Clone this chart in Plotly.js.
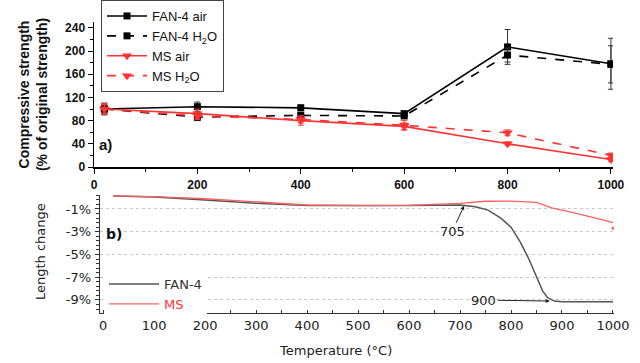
<!DOCTYPE html>
<html><head><meta charset="utf-8">
<script src="https://cdn.plot.ly/plotly-3.0.1.min.js"></script>
<style>html,body{margin:0;padding:0;background:#fff}#c{width:640px;height:363px}</style>
</head><body><div id="c"></div>
<script>
// ---- a) compressive strength ----
const tempA = [20, 200, 400, 600, 800, 1000];
const fanAir = [100, 104, 102, 92, 207, 178];
const fanAirErr = [10, 8, 5, 4, 30, 44];
const fanH2O = [100, 86, 89, 88, 193, 177];
const fanH2OErr = [8, 6, 4, 4, 12, 32];
const msAir = [100, 92, 80, 70, 40, 13];
const msAirErr = [10, 8, 8, 6, 3, 3];
const msH2O = [100, 88, 82, 72, 59, 20];
const msH2OErr = [8, 6, 6, 8, 5, 4];
const tickA = [0, 200, 400, 600, 800, 1000];

// ---- b) length change (dilatometry) ----
const tempFan = [20, 100, 200, 300, 400, 500, 600, 700, 730, 755, 780, 800, 818, 835, 850, 862, 872, 885, 900, 950, 1000];
const lenFan = [0.15, 0.05, -0.2, -0.5, -0.7, -0.72, -0.7, -0.65, -0.8, -1.1, -1.8, -2.6, -3.9, -5.4, -7.0, -8.2, -8.8, -9.1, -9.17, -9.17, -9.17];
const tempMs = [20, 100, 200, 300, 400, 500, 600, 650, 700, 750, 800, 850, 880, 920, 950, 980, 1000];
const lenMs = [0.15, 0.08, -0.1, -0.4, -0.65, -0.7, -0.68, -0.6, -0.5, -0.32, -0.3, -0.42, -0.9, -1.3, -1.6, -1.95, -2.2];
const msEndT = [1000];
const msEndL = [-2.7];
const tickBvals = [-1, -3, -5, -7, -9];
const tickBtext = ['-1%', '-3%', '-5%', '-7%', '-9%'];

const RED = '#ff3333';
const fA = {family: 'Liberation Sans, Arial, sans-serif', size: 12, color: '#111', weight: 'bold'};
const fB = {family: 'DejaVu Sans, Verdana, sans-serif', size: 13, color: '#222'};

function errT(arr, color) { return {type: 'data', array: arr, visible: true, color: color, thickness: 1, width: 3}; }

const traces = [
  {x: tempA, y: fanAir, name: 'FAN-4 air', legendgroup: 'fan', mode: 'lines+markers', xaxis: 'x', yaxis: 'y',
   line: {color: '#000', width: 1.6}, marker: {symbol: 'square', size: 7, color: '#000'}, error_y: errT(fanAirErr, '#333')},
  {x: tempA, y: fanH2O, name: 'FAN-4 H<sub>2</sub>O', legendgroup: 'fan', mode: 'lines+markers', xaxis: 'x', yaxis: 'y',
   line: {color: '#000', width: 1.6, dash: 'dash'}, marker: {symbol: 'square', size: 7, color: '#000'}, error_y: errT(fanH2OErr, '#333')},
  {x: tempA, y: msAir, name: 'MS air', legendgroup: 'ms', mode: 'lines+markers', xaxis: 'x', yaxis: 'y',
   line: {color: RED, width: 1.6}, marker: {symbol: 'triangle-down', size: 9, color: RED}, error_y: errT(msAirErr, RED)},
  {x: tempA, y: msH2O, name: 'MS H<sub>2</sub>O', legendgroup: 'ms', mode: 'lines+markers', xaxis: 'x', yaxis: 'y',
   line: {color: RED, width: 1.6, dash: 'dash'}, marker: {symbol: 'triangle-down', size: 9, color: RED}, error_y: errT(msH2OErr, RED)},
  {x: tempFan, y: lenFan, name: 'FAN-4', legend: 'legend2', mode: 'lines', xaxis: 'x2', yaxis: 'y2',
   line: {color: '#555', width: 1.5}},
  {x: tempMs, y: lenMs, name: '<span style="color:#ff3333">MS</span>', legend: 'legend2', mode: 'lines', xaxis: 'x2', yaxis: 'y2',
   line: {color: '#ff6060', width: 1.3}},
  {x: msEndT, y: msEndL, showlegend: false, mode: 'markers', xaxis: 'x2', yaxis: 'y2',
   marker: {color: '#ff6060', size: 3}}
];

const layout = {
  width: 640, height: 363, margin: {l: 0, r: 0, t: 0, b: 0},
  paper_bgcolor: '#fff', plot_bgcolor: 'rgba(0,0,0,0)', showlegend: true,
  xaxis: {domain: [94/640, 613/640], range: [0, 1004], anchor: 'y', showline: true, linecolor: '#000', linewidth: 1.5,
    showgrid: false, zeroline: false, tickvals: tickA, ticks: 'outside', ticklen: 5, tickcolor: '#000',
    minor: {dtick: 100, tick0: 0, ticks: 'outside', ticklen: 3, tickcolor: '#000'},
    tickfont: fA, ticklabelstandoff: 1},
  yaxis: {domain: [(363-167)/363, (363-22)/363], range: [0, 250], anchor: 'x', showline: true, linecolor: '#000', linewidth: 1.5,
    showgrid: false, zeroline: false, tickvals: [0, 40, 80, 120, 160, 200, 240], ticks: 'outside', ticklen: 5, tickcolor: '#000',
    minor: {dtick: 20, tick0: 0, ticks: 'outside', ticklen: 3, tickcolor: '#000'},
    tickfont: fA,
    title: {text: 'Compressive strength<br>(% of original strength)', font: {family: 'Liberation Sans, Arial, sans-serif', size: 14, weight: 'bold', color: '#111'}, standoff: 14}},
  xaxis2: {domain: [100/640, 614/640], range: [-6, 1002], anchor: 'y2', showline: true, linecolor: '#333', linewidth: 1.2,
    showgrid: false, zeroline: false, dtick: 100, tick0: 0, ticks: 'inside', ticklen: 3, tickcolor: '#333',
    minor: {dtick: 50, tick0: 0, ticks: 'inside', ticklen: 3, tickcolor: '#333'},
    tickfont: fB, ticklabelstandoff: 0},
  yaxis2: {domain: [(363-313)/363, (363-195)/363], range: [-10.15, 0.23], anchor: 'x2', showline: true, linecolor: '#333', linewidth: 1.2,
    showgrid: true, gridcolor: '#c8c8c8', griddash: 'dot', gridwidth: 1, zeroline: false,
    tickvals: tickBvals, ticktext: tickBtext, ticks: 'outside', ticklen: 4, tickcolor: '#333',
    minor: {dtick: 0.4, tick0: -1, ticks: 'outside', ticklen: 3, tickcolor: '#333', showgrid: false},
    tickfont: fB, ticklabelstandoff: 1},
  legend: {x: 101/640, xanchor: 'left', y: 1, yanchor: 'top', bgcolor: '#fff', bordercolor: '#444', borderwidth: 1,
    font: {family: 'Liberation Sans, Arial, sans-serif', size: 13, color: '#111'}, itemwidth: 40, tracegroupgap: 0,
    traceorder: 'grouped'},
  legend2: {x: 104/640, xanchor: 'left', y: (363-269)/363, yanchor: 'top', bgcolor: '#fff', borderwidth: 0,
    font: {family: 'DejaVu Sans, Verdana, sans-serif', size: 13, color: '#333'}, itemwidth: 50, tracegroupgap: 0},
  annotations: [
    {xref: 'paper', yref: 'paper', x: 335/640, y: (363-350)/363, xanchor: 'center', yanchor: 'middle',
     text: 'Temperature (°C)', showarrow: false, font: fB},
    {xref: 'paper', yref: 'paper', x: 40/640, y: (363-252)/363, xanchor: 'center', yanchor: 'middle',
     text: 'Length change', textangle: -90, showarrow: false, font: fB},
    {xref: 'paper', yref: 'paper', x: 97/640, y: (363-144)/363, yanchor: 'middle', text: '<b>a)</b>', showarrow: false, xanchor: 'left',
     font: {family: 'Liberation Sans, Arial, sans-serif', size: 15, color: '#111'}},
    {xref: 'paper', yref: 'paper', x: 104/640, y: (363-234)/363, yanchor: 'middle', text: '<b>b)</b>', showarrow: false, xanchor: 'left',
     font: {family: 'DejaVu Sans, sans-serif', size: 14, color: '#111'}},
    {xref: 'x2', yref: 'y2', x: 708, y: -0.72, text: '705', showarrow: true, ax: -12, ay: 26, arrowhead: 2, arrowsize: 0.8,
     arrowwidth: 1, arrowcolor: '#222', font: fB},
    {xref: 'x2', yref: 'y2', x: 876, y: -9.1, text: '900', showarrow: true, ax: -66, ay: -1, arrowhead: 2, arrowsize: 0.8,
     arrowwidth: 1, arrowcolor: '#222', font: fB}
  ]
};
Plotly.newPlot('c', traces, layout, {staticPlot: true, displayModeBar: false});
</script></body></html>
